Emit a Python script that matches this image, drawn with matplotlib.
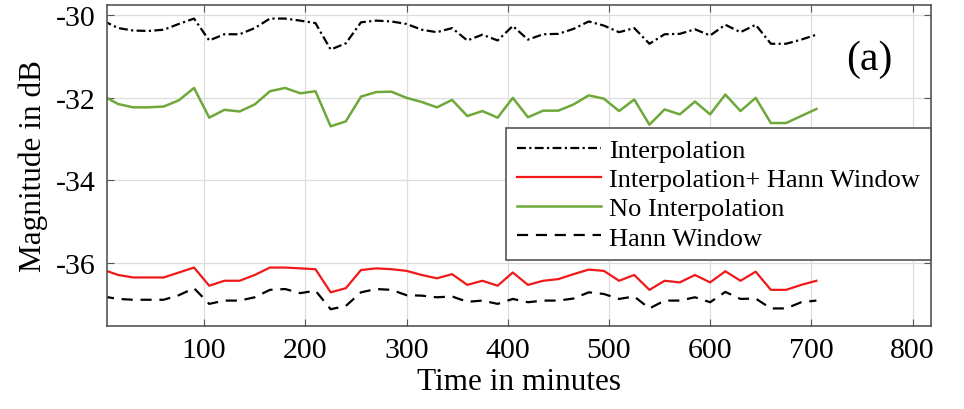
import numpy as np
import matplotlib
matplotlib.use("Agg")
import matplotlib.pyplot as plt

plt.rcParams['font.family'] = ['Liberation Serif', 'DejaVu Serif']
plt.rcParams['axes.unicode_minus'] = False

time_min = list(range(0, 706, 15))

interp = [-30.13, -30.31, -30.37, -30.38, -30.35, -30.21, -30.08, -30.61, -30.46, -30.46,
          -30.31, -30.08, -30.08, -30.13, -30.19, -30.83, -30.68, -30.17, -30.13, -30.15,
          -30.21, -30.35, -30.41, -30.31, -30.61, -30.47, -30.61, -30.26, -30.59, -30.46,
          -30.45, -30.33, -30.15, -30.25, -30.41, -30.31, -30.69, -30.46, -30.45, -30.34,
          -30.49, -30.23, -30.41, -30.23, -30.69, -30.69, -30.59, -30.47]

interp_hann = [-36.16, -36.29, -36.35, -36.35, -36.35, -36.23, -36.11, -36.55, -36.43, -36.43,
               -36.29, -36.11, -36.11, -36.13, -36.15, -36.71, -36.61, -36.17, -36.13, -36.15,
               -36.19, -36.29, -36.37, -36.27, -36.53, -36.43, -36.55, -36.23, -36.53, -36.43,
               -36.39, -36.27, -36.16, -36.19, -36.43, -36.29, -36.65, -36.43, -36.47, -36.29,
               -36.47, -36.20, -36.43, -36.21, -36.65, -36.65, -36.53, -36.43]

no_interp = [-31.95, -32.15, -32.23, -32.23, -32.21, -32.06, -31.76, -32.48, -32.29, -32.33,
             -32.16, -31.84, -31.76, -31.89, -31.84, -32.69, -32.57, -31.97, -31.86, -31.85,
             -32.00, -32.10, -32.23, -32.05, -32.44, -32.32, -32.48, -32.00, -32.47, -32.31,
             -32.31, -32.16, -31.94, -32.02, -32.32, -32.04, -32.65, -32.28, -32.40, -32.09,
             -32.40, -31.92, -32.32, -32.00, -32.61, -32.61, -32.44, -32.27]

hann = [-36.81, -36.87, -36.89, -36.89, -36.89, -36.78, -36.61, -36.99, -36.91, -36.91,
        -36.83, -36.65, -36.63, -36.73, -36.67, -37.12, -37.04, -36.71, -36.63, -36.65,
        -36.78, -36.79, -36.83, -36.81, -36.94, -36.91, -36.99, -36.87, -36.95, -36.91,
        -36.91, -36.86, -36.71, -36.75, -36.87, -36.81, -37.10, -36.91, -36.91, -36.83,
        -36.95, -36.70, -36.87, -36.86, -37.10, -37.10, -36.95, -36.91]

labels = ['Interpolation', 'Interpolation+ Hann Window', 'No Interpolation', 'Hann Window']
x_ticks = [100, 200, 300, 400, 500, 600, 700, 800]
y_ticks = [-36, -34, -32, -30]

fig = plt.figure(figsize=(9.64, 4.10), dpi=100)
ax = fig.add_axes([0.111, 0.203, 0.8545, 0.7825])

ax.plot(time_min, interp, color='black', lw=1.6, linestyle=(0, (4, 1.5, 1, 1.5)), label=labels[0])
ax.plot(time_min, interp_hann, color='#f01818', lw=1.6, label=labels[1])
ax.plot(time_min, no_interp, color='#6fa83a', lw=1.8, label=labels[2])
ax.plot(time_min, hann, color='black', lw=1.6, linestyle=(0, (5, 3.5)), label=labels[3])

ax.set_xlim(4, 818)
ax.set_ylim(-37.52, -29.75)
ax.set_xticks(x_ticks)
ax.set_yticks(y_ticks)
ax.grid(True, color='#dddddd', lw=0.9)
ax.set_axisbelow(True)
ax.tick_params(direction='in', top=True, right=True, length=5, color='#555555',
               labelsize=21.5, pad=8)
for s in ax.spines.values():
    s.set_color('#555555')
    s.set_linewidth(1.2)

ax.set_xlabel('Time in minutes', fontsize=22.5, labelpad=3)
ax.set_ylabel('Magnitude in dB', fontsize=22.5, labelpad=6)

leg = ax.legend(loc='upper right', bbox_to_anchor=(1.0, 0.617), borderaxespad=0,
                fontsize=19, handlelength=3.2, handletextpad=0.3, labelspacing=0.22,
                borderpad=0.4, frameon=True, fancybox=False, framealpha=1)
leg.get_frame().set_edgecolor('#555555')
leg.get_frame().set_linewidth(1.2)

ax.text(0.925, 0.832, '(a)', transform=ax.transAxes, fontsize=30, ha='center', va='center')

fig.savefig('out.png', dpi=100)
